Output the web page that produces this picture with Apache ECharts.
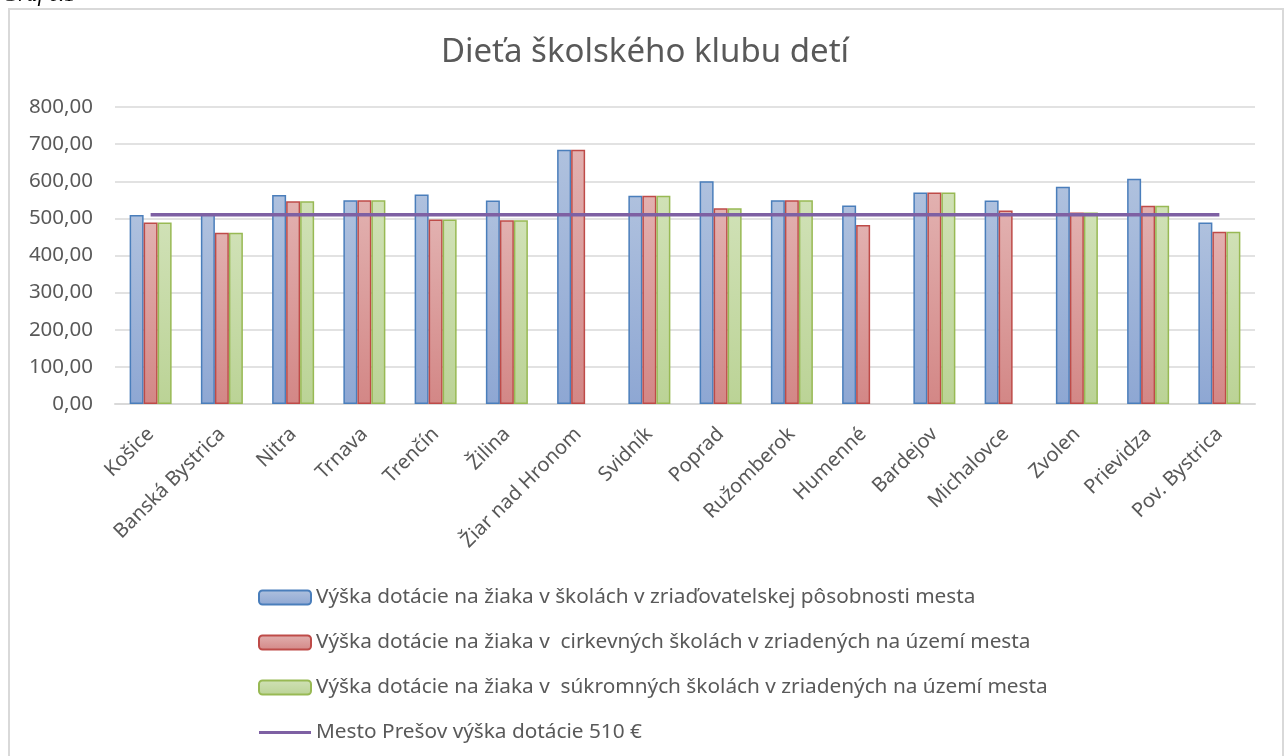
<!DOCTYPE html>
<html>
<head>
<meta charset="utf-8">
<script src="https://cdn.jsdelivr.net/npm/echarts@6/dist/echarts.min.js"></script>
<style>html,body{margin:0;padding:0;background:#fff}#c{width:1287px;height:756px}</style>
</head>
<body>
<div id="c"></div>
<script>
const categories = ['Košice','Banská Bystrica','Nitra','Trnava','Trenčín','Žilina','Žiar nad Hronom','Svidník','Poprad','Ružomberok','Humenné','Bardejov','Michalovce','Zvolen','Prievidza','Pov. Bystrica'];
const mestske   = [509, 513, 563, 549, 564, 548, 685, 561, 600, 549, 535, 570, 548, 585, 607, 489];
const cirkevne  = [489, 461, 546, 549, 497, 495, 685, 561, 527, 549, 482, 570, 521, 516, 534, 464];
const sukromne  = [489, 461, 546, 549, 497, 495, null, 561, 527, 549, null, 570, null, 516, 534, 464];
const presov    = [510, 510, 510, 510, 510, 510, 510, 510, 510, 510, 510, 510, 510, 510, 510, 510];
const seriesNames = [
  'Výška dotácie na žiaka v školách v zriaďovatelskej pôsobnosti mesta',
  'Výška dotácie na žiaka v  cirkevných školách v zriadených na území mesta',
  'Výška dotácie na žiaka v  súkromných školách v zriadených na území mesta',
  'Mesto Prešov výška dotácie 510 €'
];
const titleText = 'Dieťa školského klubu detí';
const captionText = 'Graf č.1';

const FONT = '"Noto Sans", "Open Sans", sans-serif';
const TXT = '#595959';
const PURPLE = '#7e60a3';
function grad(top, bottom){
  return new echarts.graphic.LinearGradient(0,0,0,1,[{offset:0,color:top},{offset:1,color:bottom}]);
}
function barSeries(name, data, top, bottom, border){
  return {
    name, type:'bar', data, barWidth:14, barGap:'0%',
    itemStyle:{color:grad(top,bottom), borderColor:border, borderWidth:1.5},
    emphasis:{disabled:true}
  };
}
const chart = echarts.init(document.getElementById('c'));
chart.setOption({
  animation:false,
  backgroundColor:'#fff',
  title:{text:titleText, left:640, textAlign:'center', top:31,
    textStyle:{fontFamily:FONT, fontSize:33, fontWeight:'normal', color:TXT}},
  graphic:[
    {type:'rect', shape:{x:9,y:9,width:1274,height:780}, style:{fill:null, stroke:'#d9d9d9', lineWidth:2}, silent:true},
    {type:'text', left:2, top:-16, style:{text:captionText, font:'italic 22px "Liberation Serif", serif', fill:'#000'}}
  ],
  grid:{left:115, right:32, top:107, bottom:352, containLabel:false},
  legend:{
    orient:'vertical', left:253, top:582, itemWidth:52, itemHeight:14, itemGap:24,
    textStyle:{fontFamily:FONT, fontSize:20.8, color:TXT},
    data:[seriesNames[0], seriesNames[1], seriesNames[2],
      {name:seriesNames[3], icon:'path://M0,0 M0,14 M0,5.5 L52,5.5 L52,8.5 L0,8.5 Z',
       itemStyle:{color:PURPLE, borderWidth:0}}]
  },
  xAxis:{
    type:'category', data:categories,
    axisLine:{lineStyle:{color:'#d9d9d9', width:2}},
    axisTick:{show:false},
    axisLabel:{rotate:45, interval:0, margin:27, fontFamily:FONT, fontSize:20, color:TXT}
  },
  yAxis:{
    type:'value', min:0, max:800, interval:100,
    axisLine:{show:false}, axisTick:{show:false},
    splitLine:{lineStyle:{color:'#d9d9d9', width:1.5}},
    axisLabel:{margin:22, fontFamily:FONT, fontSize:20.5, color:TXT,
      formatter:v=>v.toFixed(2).replace('.',',')}
  },
  series:[
    barSeries(seriesNames[0], mestske, '#afc1de', '#8ea7d3', '#4a7ebb'),
    barSeries(seriesNames[1], cirkevne, '#e2b1b0', '#d38786', '#be4b48'),
    barSeries(seriesNames[2], sukromne, '#d0e1b6', '#bbd396', '#98b954'),
    {name:seriesNames[3], type:'line', data:presov, symbol:'none', showSymbol:false,
      lineStyle:{color:PURPLE, width:3.5}, itemStyle:{color:PURPLE}, z:5,
      emphasis:{disabled:true}}
  ]
});
</script>
</body>
</html>
